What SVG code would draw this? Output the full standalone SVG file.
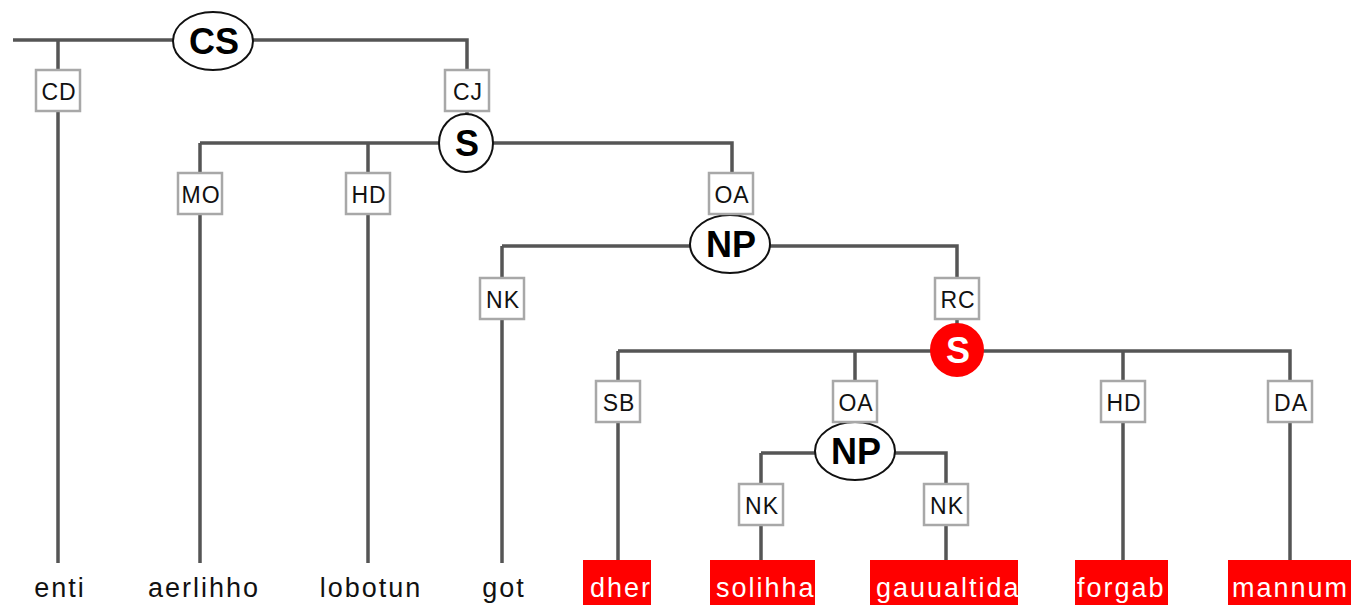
<svg xmlns="http://www.w3.org/2000/svg" width="1351" height="605" viewBox="0 0 1351 605">
  <style>
    .edge { fill: none; stroke: #555; stroke-width: 3.5; stroke-linecap: butt; }
    .fn rect { fill: #fff; stroke: #a8a8a8; stroke-width: 2.5; }
    .fn text { font-family: "Liberation Sans", Arial, sans-serif; font-size: 23px; letter-spacing: 1px; fill: #111; text-anchor: middle; }
    .cat ellipse { fill: #fff; stroke: #111; stroke-width: 2; }
    .cat text { font-family: "Liberation Sans", Arial, sans-serif; font-size: 36px; font-weight: bold; fill: #000; text-anchor: middle; }
    .cat.hl ellipse { fill: #f00; stroke: #f00; }
    .cat.hl text { fill: #fff; }
    .word text { font-family: "Liberation Sans", Arial, sans-serif; font-size: 27px; letter-spacing: 2px; fill: #111; }
    .word.plain text { text-anchor: middle; }
    .word.hl rect { fill: #f00; }
    .word.hl text { fill: #fff; }
  </style>
  <defs>
    <clipPath id="clip-dher"><rect x="583" y="560" width="68" height="45"/></clipPath>
    <clipPath id="clip-solihha"><rect x="710" y="560" width="105" height="45"/></clipPath>
    <clipPath id="clip-gauualtida"><rect x="870" y="560" width="148" height="45"/></clipPath>
    <clipPath id="clip-forgab"><rect x="1075" y="560" width="93" height="45"/></clipPath>
    <clipPath id="clip-mannum"><rect x="1228" y="560" width="124" height="45"/></clipPath>
  </defs>

  <rect width="1351" height="605" fill="#fff"/>

  <!-- tree edges -->
  <g id="connectors">
    <!-- CS -->
    <path class="edge" d="M13 40 H467 V70"/>
    <path class="edge" d="M58 40 V70"/>
    <path class="edge" d="M58 111 V563"/>
    <path class="edge" d="M467 111 V116"/>
    <!-- S -->
    <path class="edge" d="M200 143 H732 V173"/>
    <path class="edge" d="M200 143 V173 M200 214 V563"/>
    <path class="edge" d="M368 143 V173 M368 214 V563"/>
    <path class="edge" d="M731 214 V218"/>
    <!-- NP -->
    <path class="edge" d="M502 246 H957 V278"/>
    <path class="edge" d="M502 246 V278 M502 319 V563"/>
    <path class="edge" d="M957 319 V325"/>
    <!-- S (relative clause) -->
    <path class="edge" d="M618 351 H1290 V381"/>
    <path class="edge" d="M618 351 V381 M618 422 V560"/>
    <path class="edge" d="M855 351 V381 M855 422 V425"/>
    <path class="edge" d="M1123 351 V381 M1123 422 V560"/>
    <path class="edge" d="M1290 422 V560"/>
    <!-- NP (object) -->
    <path class="edge" d="M761 453 H946 V484"/>
    <path class="edge" d="M761 453 V484 M761 525 V560"/>
    <path class="edge" d="M946 525 V560"/>
  </g>

  <!-- phrase nodes -->
  <g id="node-cs" class="cat"><ellipse cx="213" cy="41" rx="40" ry="29"/><text x="214" y="54">CS</text></g>
  <g id="node-s1" class="cat"><ellipse cx="466" cy="143" rx="27" ry="29"/><text x="467" y="156">S</text></g>
  <g id="node-np1" class="cat"><ellipse cx="730" cy="244" rx="40" ry="29"/><text x="731" y="257">NP</text></g>
  <g id="node-s2" class="cat hl"><ellipse cx="957" cy="350" rx="26" ry="26"/><text x="958" y="363">S</text></g>
  <g id="node-np2" class="cat"><ellipse cx="855" cy="451" rx="40" ry="29"/><text x="856" y="464">NP</text></g>

  <!-- function labels -->
  <g id="fn-cd" class="fn"><rect x="36" y="70" width="44" height="41"/><text x="59" y="100">CD</text></g>
  <g id="fn-cj" class="fn"><rect x="445" y="70" width="44" height="41"/><text x="468" y="100">CJ</text></g>
  <g id="fn-mo" class="fn"><rect x="178" y="173" width="44" height="41"/><text x="201" y="203">MO</text></g>
  <g id="fn-hd1" class="fn"><rect x="346" y="173" width="44" height="41"/><text x="369" y="203">HD</text></g>
  <g id="fn-oa1" class="fn"><rect x="709" y="173" width="44" height="41"/><text x="732" y="203">OA</text></g>
  <g id="fn-nk1" class="fn"><rect x="480" y="278" width="44" height="41"/><text x="503" y="308">NK</text></g>
  <g id="fn-rc" class="fn"><rect x="935" y="278" width="44" height="41"/><text x="958" y="308">RC</text></g>
  <g id="fn-sb" class="fn"><rect x="596" y="381" width="44" height="41"/><text x="619" y="411">SB</text></g>
  <g id="fn-oa2" class="fn"><rect x="833" y="381" width="44" height="41"/><text x="856" y="411">OA</text></g>
  <g id="fn-hd2" class="fn"><rect x="1101" y="381" width="44" height="41"/><text x="1124" y="411">HD</text></g>
  <g id="fn-da" class="fn"><rect x="1268" y="381" width="44" height="41"/><text x="1291" y="411">DA</text></g>
  <g id="fn-nk2" class="fn"><rect x="739" y="484" width="44" height="41"/><text x="762" y="514">NK</text></g>
  <g id="fn-nk3" class="fn"><rect x="924" y="484" width="44" height="41"/><text x="947" y="514">NK</text></g>

  <!-- words -->
  <g id="w-enti" class="word plain"><text x="60" y="597">enti</text></g>
  <g id="w-aerlihho" class="word plain"><text x="204" y="597">aerlihho</text></g>
  <g id="w-lobotun" class="word plain"><text x="371" y="597">lobotun</text></g>
  <g id="w-got" class="word plain"><text x="504" y="597">got</text></g>
  <g id="w-dher" class="word hl"><rect x="583" y="560" width="68" height="45"/><text x="590" y="597" clip-path="url(#clip-dher)">dher</text></g>
  <g id="w-solihha" class="word hl"><rect x="710" y="560" width="105" height="45"/><text x="716" y="597" clip-path="url(#clip-solihha)">solihha</text></g>
  <g id="w-gauualtida" class="word hl"><rect x="870" y="560" width="148" height="45"/><text x="876" y="597" clip-path="url(#clip-gauualtida)">gauualtida</text></g>
  <g id="w-forgab" class="word hl"><rect x="1075" y="560" width="93" height="45"/><text x="1077" y="597" clip-path="url(#clip-forgab)">forgab</text></g>
  <g id="w-mannum" class="word hl"><rect x="1228" y="560" width="124" height="45"/><text x="1232" y="597" clip-path="url(#clip-mannum)">mannum</text></g>
</svg>
